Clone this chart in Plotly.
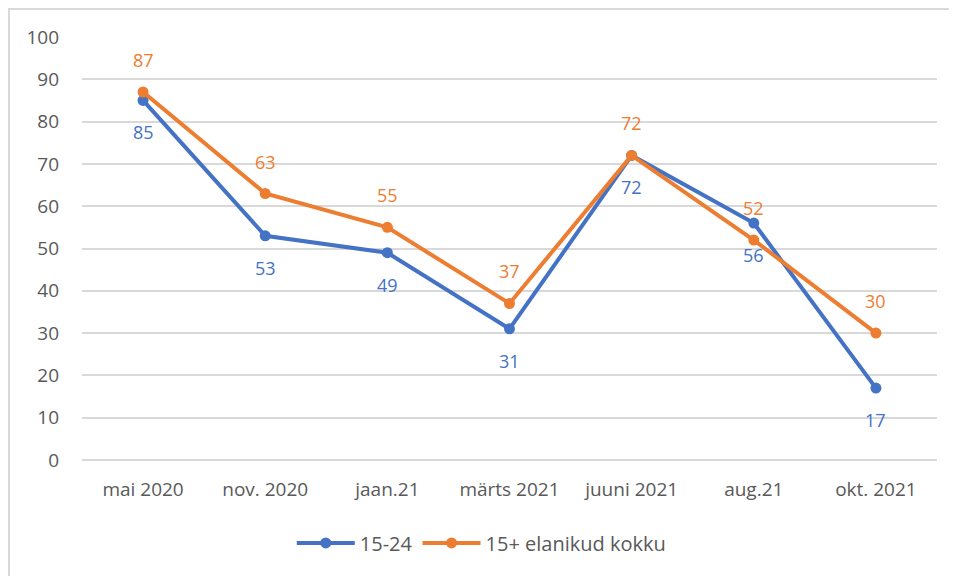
import plotly.graph_objects as go

categories = ["mai 2020", "nov. 2020", "jaan.21", "märts 2021", "juuni 2021", "aug.21", "okt. 2021"]
youth = [85, 53, 49, 31, 72, 56, 17]
total = [87, 63, 55, 37, 72, 52, 30]
series_names = ["15-24", "15+ elanikud kokku"]

BLUE = "#4472C4"
ORANGE = "#ED7D31"
FONT = "Open Sans, Liberation Sans, sans-serif"

fig = go.Figure()
fig.add_trace(go.Scatter(x=categories, y=youth, name=series_names[0], mode="lines+markers",
                         line=dict(color=BLUE, width=4), marker=dict(size=11, color=BLUE)))
fig.add_trace(go.Scatter(x=categories, y=total, name=series_names[1], mode="lines+markers",
                         line=dict(color=ORANGE, width=4), marker=dict(size=11, color=ORANGE)))

annotations = []
for c, v in zip(categories, youth):
    annotations.append(dict(x=c, y=v, text=str(v), showarrow=False, yshift=-32,
                            font=dict(color=BLUE, size=18, family=FONT)))
for c, v in zip(categories, total):
    annotations.append(dict(x=c, y=v, text=str(v), showarrow=False, yshift=32,
                            font=dict(color=ORANGE, size=18, family=FONT)))

fig.update_layout(
    width=957, height=576,
    margin=dict(l=74, r=28, t=29, b=124),
    paper_bgcolor="white", plot_bgcolor="white",
    font=dict(family=FONT, color="#595959", size=19),
    annotations=annotations,
    showlegend=True,
    legend=dict(orientation="h", x=0.467, xanchor="center", y=-0.196, yanchor="middle",
                itemwidth=58, font=dict(size=20, color="#595959", family=FONT)),
    shapes=[dict(type="rect", xref="paper", yref="paper", x0=-0.0854, x1=1.2, y0=-0.4, y1=1.0662,
                 line=dict(color="#d9d9d9", width=2), layer="below")],
)
fig.update_yaxes(range=[0, 100], dtick=10, showgrid=True, gridcolor="#d9d9d9", gridwidth=1.5,
                 zeroline=True, zerolinecolor="#d9d9d9", zerolinewidth=1.5, showline=False,
                 ticks="", ticklabelstandoff=22, tickfont=dict(size=19, color="#595959"))
fig.update_xaxes(range=[-0.5, len(categories) - 0.5], showgrid=False, showline=False, ticks="",
                 ticklabelstandoff=16, tickfont=dict(size=19, color="#595959"))

fig.write_html("out.html")
